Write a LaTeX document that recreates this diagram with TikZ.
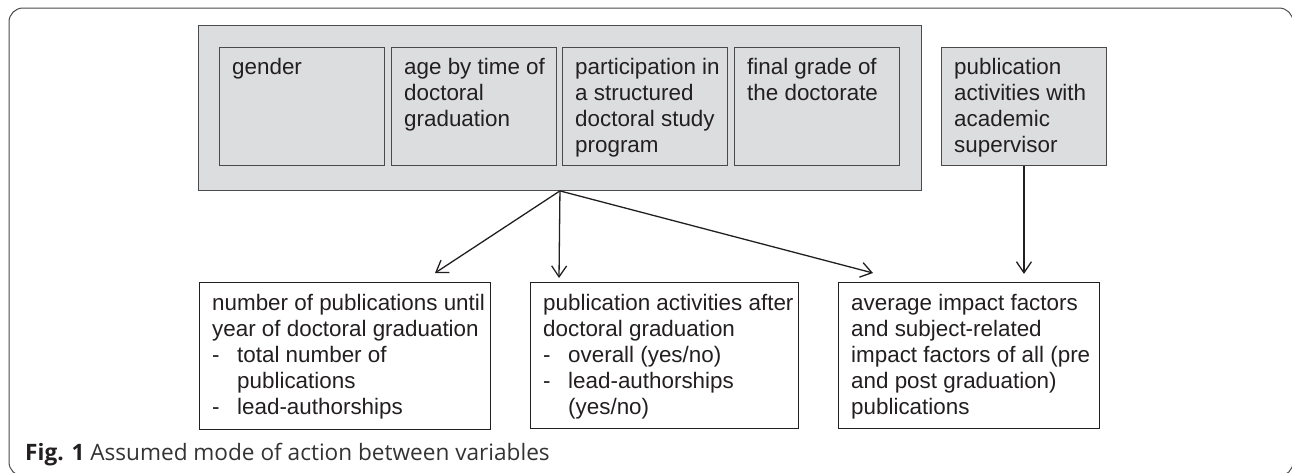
\documentclass[tikz,border=0pt]{standalone}
\usepackage{fontspec}
\setmainfont{Liberation Sans}
\newfontfamily\capfont{Open Sans}
\usetikzlibrary{arrows.meta}

\definecolor{boxgrey}{HTML}{DCDDDF}
\definecolor{edgegrey}{HTML}{4A4A4A}
\definecolor{inkcol}{HTML}{231F20}
\definecolor{capcol}{HTML}{333333}

% dash item used in the result boxes
\newcommand\dashit[1]{\makebox[25pt][l]{-}#1}
\newcommand\dashcont[1]{\hspace*{25pt}#1}

\begin{document}
\begin{tikzpicture}[x=1pt,y=-1pt,
  greybox/.style={draw=edgegrey, fill=boxgrey, line width=0.9pt, inner sep=0pt, anchor=north west},
  whitebox/.style={draw=inkcol, fill=white, line width=0.9pt, inner sep=0pt, anchor=north west},
  boxtext/.style={anchor=north west, inner sep=0pt, align=left, text=inkcol,
    font=\fontsize{22.4}{26}\selectfont},
  arr/.style={draw=inkcol, line width=1.3pt, -{Straight Barb[length=11pt,width=15pt]}}
]
\clip (0,0) rectangle (1292,472);

% outer frame
\draw[edgegrey, line width=1pt, rounded corners=14pt] (9,8) rectangle (1293,476);

% group of personal variables
\node[greybox, minimum width=723pt, minimum height=165pt] (ctrl) at (198,25) {};

\node[greybox, minimum width=165pt, minimum height=118pt] (gender) at (219,47) {};
\node[greybox, minimum width=165pt, minimum height=118pt] (age)    at (391,47) {};
\node[greybox, minimum width=165pt, minimum height=118pt] (part)   at (562,47) {};
\node[greybox, minimum width=165pt, minimum height=118pt] (grade)  at (734,47) {};
\node[greybox, minimum width=165pt, minimum height=118pt] (sup)    at (941,47) {};

\node[boxtext] (gender-t) at ([xshift=13pt,yshift=-8.8pt]gender.north west) {\strut gender};
\node[boxtext] (age-t) at ([xshift=13pt,yshift=-8.8pt]age.north west)
  {\strut age by time of\\doctoral\\graduation};
\node[boxtext] (part-t) at ([xshift=13pt,yshift=-8.8pt]part.north west)
  {\strut participation in\\a structured\\doctoral study\\program};
\node[boxtext] (grade-t) at ([xshift=13pt,yshift=-8.8pt]grade.north west)
  {\strut final grade of\\the doctorate};
\node[boxtext] (sup-t) at ([xshift=13pt,yshift=-8.8pt]sup.north west)
  {\strut publication\\activities with\\academic\\supervisor};

% outcome boxes
\node[whitebox, minimum width=291pt, minimum height=147pt] (b1) at (199,282) {};
\node[whitebox, minimum width=268pt, minimum height=146pt] (b2) at (530,282) {};
\node[whitebox, minimum width=261pt, minimum height=146pt] (b3) at (838,282) {};

\node[boxtext] (b1-t) at ([xshift=13pt,yshift=-9.8pt]b1.north west)
  {\strut number of publications until\\year of doctoral graduation\\
   \dashit{total number of}\\\dashcont{publications}\\\dashit{lead-authorships}};
\node[boxtext] (b2-t) at ([xshift=13pt,yshift=-9.8pt]b2.north west)
  {\strut publication activities after\\doctoral graduation\\
   \dashit{overall (yes/no)}\\\dashit{lead-authorships}\\\dashcont{(yes/no)}};
\node[boxtext] (b3-t) at ([xshift=13pt,yshift=-9.8pt]b3.north west)
  {\strut average impact factors\\and subject-related\\impact factors of all (pre\\and post graduation)\\publications};

% arrow end points just above the outcome boxes
\coordinate (t1) at ([xshift=236pt,yshift=9pt]b1.north west);
\coordinate (t2) at ([xshift=29pt,yshift=4pt]b2.north west);
\coordinate (t3) at ([xshift=35pt,yshift=9pt]b3.north west);
\coordinate (t4) at ([yshift=-108pt]sup.south);

\draw[arr] (ctrl.south) -- (t1);
\draw[arr] (ctrl.south) -- (t2);
\draw[arr] (ctrl.south) -- (t3);
\draw[arr] (sup.south) -- (t4);

% caption
\node[anchor=base west, inner sep=0pt, text=capcol, font=\capfont\fontsize{22.6}{26}\selectfont]
  (cap) at (25,460) {\textbf{\color{inkcol}Fig. 1} Assumed mode of action between variables};
\end{tikzpicture}
\end{document}
